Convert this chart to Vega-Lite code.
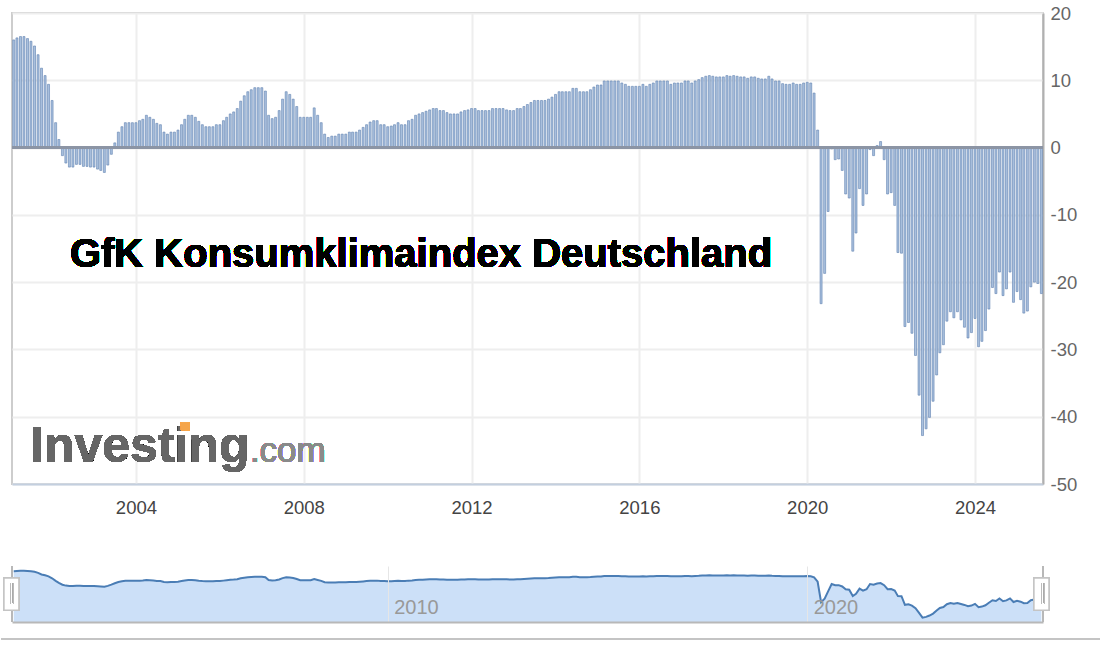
{
  "$schema": "https://vega.github.io/schema/vega-lite/v6.json",
  "padding": {"left": 0, "top": 3, "right": 0, "bottom": 0},
  "background": "white",
  "spacing": 47,
  "config": {"font": "Liberation Sans"},
  "datasets": {
    "gfk": [
      {"date":"2001-02-01","index":16.0},{"date":"2001-03-01","index":16.3},{"date":"2001-04-01","index":16.5},{"date":"2001-05-01","index":16.5},{"date":"2001-06-01","index":16.2},{"date":"2001-07-01","index":15.8},{"date":"2001-08-01","index":15.1},{"date":"2001-09-01","index":13.8},{"date":"2001-10-01","index":11.8},{"date":"2001-11-01","index":10.7},{"date":"2001-12-01","index":9.4},
      {"date":"2002-01-01","index":7.0},{"date":"2002-02-01","index":3.7},{"date":"2002-03-01","index":1.2},{"date":"2002-04-01","index":-1.2},{"date":"2002-05-01","index":-2.3},{"date":"2002-06-01","index":-2.9},{"date":"2002-07-01","index":-2.9},{"date":"2002-08-01","index":-2.5},{"date":"2002-09-01","index":-2.5},{"date":"2002-10-01","index":-2.8},{"date":"2002-11-01","index":-2.8},{"date":"2002-12-01","index":-2.9},
      {"date":"2003-01-01","index":-2.9},{"date":"2003-02-01","index":-3.2},{"date":"2003-03-01","index":-3.4},{"date":"2003-04-01","index":-3.7},{"date":"2003-05-01","index":-2.6},{"date":"2003-06-01","index":-1.0},{"date":"2003-07-01","index":0.7},{"date":"2003-08-01","index":2.3},{"date":"2003-09-01","index":3.1},{"date":"2003-10-01","index":3.7},{"date":"2003-11-01","index":3.7},{"date":"2003-12-01","index":3.7},
      {"date":"2004-01-01","index":3.7},{"date":"2004-02-01","index":4.0},{"date":"2004-03-01","index":4.2},{"date":"2004-04-01","index":4.8},{"date":"2004-05-01","index":4.5},{"date":"2004-06-01","index":4.2},{"date":"2004-07-01","index":3.6},{"date":"2004-08-01","index":3.4},{"date":"2004-09-01","index":2.3},{"date":"2004-10-01","index":2.0},{"date":"2004-11-01","index":2.3},{"date":"2004-12-01","index":2.3},
      {"date":"2005-01-01","index":2.6},{"date":"2005-02-01","index":3.4},{"date":"2005-03-01","index":4.2},{"date":"2005-04-01","index":4.8},{"date":"2005-05-01","index":4.8},{"date":"2005-06-01","index":4.5},{"date":"2005-07-01","index":3.9},{"date":"2005-08-01","index":3.4},{"date":"2005-09-01","index":3.1},{"date":"2005-10-01","index":3.1},{"date":"2005-11-01","index":3.1},{"date":"2005-12-01","index":3.4},
      {"date":"2006-01-01","index":3.4},{"date":"2006-02-01","index":4.0},{"date":"2006-03-01","index":4.5},{"date":"2006-04-01","index":5.0},{"date":"2006-05-01","index":5.3},{"date":"2006-06-01","index":5.8},{"date":"2006-07-01","index":6.9},{"date":"2006-08-01","index":7.7},{"date":"2006-09-01","index":8.3},{"date":"2006-10-01","index":8.6},{"date":"2006-11-01","index":8.9},{"date":"2006-12-01","index":8.9},
      {"date":"2007-01-01","index":8.9},{"date":"2007-02-01","index":8.4},{"date":"2007-03-01","index":4.8},{"date":"2007-04-01","index":4.3},{"date":"2007-05-01","index":4.5},{"date":"2007-06-01","index":5.5},{"date":"2007-07-01","index":7.2},{"date":"2007-08-01","index":8.3},{"date":"2007-09-01","index":7.9},{"date":"2007-10-01","index":7.2},{"date":"2007-11-01","index":6.1},{"date":"2007-12-01","index":4.5},
      {"date":"2008-01-01","index":4.5},{"date":"2008-02-01","index":4.5},{"date":"2008-03-01","index":4.5},{"date":"2008-04-01","index":5.9},{"date":"2008-05-01","index":4.8},{"date":"2008-06-01","index":3.7},{"date":"2008-07-01","index":2.0},{"date":"2008-08-01","index":1.5},{"date":"2008-09-01","index":1.7},{"date":"2008-10-01","index":1.7},{"date":"2008-11-01","index":2.0},{"date":"2008-12-01","index":2.0},
      {"date":"2009-01-01","index":2.0},{"date":"2009-02-01","index":2.3},{"date":"2009-03-01","index":2.3},{"date":"2009-04-01","index":2.3},{"date":"2009-05-01","index":2.6},{"date":"2009-06-01","index":3.0},{"date":"2009-07-01","index":3.4},{"date":"2009-08-01","index":3.8},{"date":"2009-09-01","index":4.0},{"date":"2009-10-01","index":4.0},{"date":"2009-11-01","index":3.4},{"date":"2009-12-01","index":3.4},
      {"date":"2010-01-01","index":3.1},{"date":"2010-02-01","index":3.2},{"date":"2010-03-01","index":3.4},{"date":"2010-04-01","index":3.7},{"date":"2010-05-01","index":3.4},{"date":"2010-06-01","index":3.4},{"date":"2010-07-01","index":4.0},{"date":"2010-08-01","index":4.2},{"date":"2010-09-01","index":4.8},{"date":"2010-10-01","index":5.0},{"date":"2010-11-01","index":5.2},{"date":"2010-12-01","index":5.4},
      {"date":"2011-01-01","index":5.6},{"date":"2011-02-01","index":5.8},{"date":"2011-03-01","index":5.8},{"date":"2011-04-01","index":5.5},{"date":"2011-05-01","index":5.5},{"date":"2011-06-01","index":5.2},{"date":"2011-07-01","index":5.0},{"date":"2011-08-01","index":5.0},{"date":"2011-09-01","index":5.0},{"date":"2011-10-01","index":5.3},{"date":"2011-11-01","index":5.5},{"date":"2011-12-01","index":5.6},
      {"date":"2012-01-01","index":5.8},{"date":"2012-02-01","index":5.8},{"date":"2012-03-01","index":5.5},{"date":"2012-04-01","index":5.5},{"date":"2012-05-01","index":5.5},{"date":"2012-06-01","index":5.5},{"date":"2012-07-01","index":5.8},{"date":"2012-08-01","index":5.8},{"date":"2012-09-01","index":5.8},{"date":"2012-10-01","index":5.8},{"date":"2012-11-01","index":5.6},{"date":"2012-12-01","index":5.5},
      {"date":"2013-01-01","index":5.5},{"date":"2013-02-01","index":5.8},{"date":"2013-03-01","index":5.8},{"date":"2013-04-01","index":6.1},{"date":"2013-05-01","index":6.4},{"date":"2013-06-01","index":6.7},{"date":"2013-07-01","index":7.0},{"date":"2013-08-01","index":7.0},{"date":"2013-09-01","index":7.0},{"date":"2013-10-01","index":7.0},{"date":"2013-11-01","index":7.2},{"date":"2013-12-01","index":7.5},
      {"date":"2014-01-01","index":7.9},{"date":"2014-02-01","index":8.3},{"date":"2014-03-01","index":8.3},{"date":"2014-04-01","index":8.3},{"date":"2014-05-01","index":8.3},{"date":"2014-06-01","index":8.8},{"date":"2014-07-01","index":8.8},{"date":"2014-08-01","index":8.3},{"date":"2014-09-01","index":8.3},{"date":"2014-10-01","index":8.3},{"date":"2014-11-01","index":8.6},{"date":"2014-12-01","index":9.0},
      {"date":"2015-01-01","index":9.3},{"date":"2015-02-01","index":9.3},{"date":"2015-03-01","index":9.9},{"date":"2015-04-01","index":9.9},{"date":"2015-05-01","index":9.9},{"date":"2015-06-01","index":9.9},{"date":"2015-07-01","index":9.9},{"date":"2015-08-01","index":9.6},{"date":"2015-09-01","index":9.4},{"date":"2015-10-01","index":9.1},{"date":"2015-11-01","index":9.1},{"date":"2015-12-01","index":9.1},
      {"date":"2016-01-01","index":9.1},{"date":"2016-02-01","index":9.4},{"date":"2016-03-01","index":9.1},{"date":"2016-04-01","index":9.4},{"date":"2016-05-01","index":9.6},{"date":"2016-06-01","index":9.9},{"date":"2016-07-01","index":9.9},{"date":"2016-08-01","index":9.9},{"date":"2016-09-01","index":9.9},{"date":"2016-10-01","index":9.4},{"date":"2016-11-01","index":9.6},{"date":"2016-12-01","index":9.6},
      {"date":"2017-01-01","index":9.6},{"date":"2017-02-01","index":9.9},{"date":"2017-03-01","index":9.9},{"date":"2017-04-01","index":9.6},{"date":"2017-05-01","index":9.9},{"date":"2017-06-01","index":10.1},{"date":"2017-07-01","index":10.4},{"date":"2017-08-01","index":10.6},{"date":"2017-09-01","index":10.7},{"date":"2017-10-01","index":10.6},{"date":"2017-11-01","index":10.5},{"date":"2017-12-01","index":10.5},
      {"date":"2018-01-01","index":10.5},{"date":"2018-02-01","index":10.7},{"date":"2018-03-01","index":10.6},{"date":"2018-04-01","index":10.7},{"date":"2018-05-01","index":10.6},{"date":"2018-06-01","index":10.5},{"date":"2018-07-01","index":10.5},{"date":"2018-08-01","index":10.3},{"date":"2018-09-01","index":10.5},{"date":"2018-10-01","index":10.5},{"date":"2018-11-01","index":10.3},{"date":"2018-12-01","index":10.2},
      {"date":"2019-01-01","index":10.2},{"date":"2019-02-01","index":10.6},{"date":"2019-03-01","index":10.2},{"date":"2019-04-01","index":9.9},{"date":"2019-05-01","index":9.9},{"date":"2019-06-01","index":9.5},{"date":"2019-07-01","index":9.4},{"date":"2019-08-01","index":9.4},{"date":"2019-09-01","index":9.6},{"date":"2019-10-01","index":9.4},{"date":"2019-11-01","index":9.4},{"date":"2019-12-01","index":9.6},
      {"date":"2020-01-01","index":9.7},{"date":"2020-02-01","index":9.6},{"date":"2020-03-01","index":8.1},{"date":"2020-04-01","index":2.6},{"date":"2020-05-01","index":-23.2},{"date":"2020-06-01","index":-18.7},{"date":"2020-07-01","index":-9.5},{"date":"2020-08-01","index":-0.2},{"date":"2020-09-01","index":-1.8},{"date":"2020-10-01","index":-1.7},{"date":"2020-11-01","index":-3.4},{"date":"2020-12-01","index":-6.9},
      {"date":"2021-01-01","index":-7.5},{"date":"2021-02-01","index":-15.4},{"date":"2021-03-01","index":-12.7},{"date":"2021-04-01","index":-6.1},{"date":"2021-05-01","index":-8.6},{"date":"2021-06-01","index":-6.9},{"date":"2021-07-01","index":-0.3},{"date":"2021-08-01","index":-1.2},{"date":"2021-09-01","index":0.3},{"date":"2021-10-01","index":0.9},{"date":"2021-11-01","index":-1.8},{"date":"2021-12-01","index":-6.9},
      {"date":"2022-01-01","index":-6.7},{"date":"2022-02-01","index":-8.6},{"date":"2022-03-01","index":-15.6},{"date":"2022-04-01","index":-15.7},{"date":"2022-05-01","index":-26.6},{"date":"2022-06-01","index":-26.0},{"date":"2022-07-01","index":-27.6},{"date":"2022-08-01","index":-30.9},{"date":"2022-09-01","index":-36.8},{"date":"2022-10-01","index":-42.8},{"date":"2022-11-01","index":-41.8},{"date":"2022-12-01","index":-40.1},
      {"date":"2023-01-01","index":-37.7},{"date":"2023-02-01","index":-33.8},{"date":"2023-03-01","index":-30.5},{"date":"2023-04-01","index":-29.3},{"date":"2023-05-01","index":-25.8},{"date":"2023-06-01","index":-24.4},{"date":"2023-07-01","index":-25.3},{"date":"2023-08-01","index":-24.4},{"date":"2023-09-01","index":-25.6},{"date":"2023-10-01","index":-26.7},{"date":"2023-11-01","index":-28.3},{"date":"2023-12-01","index":-27.5},
      {"date":"2024-01-01","index":-25.4},{"date":"2024-02-01","index":-29.6},{"date":"2024-03-01","index":-28.8},{"date":"2024-04-01","index":-27.2},{"date":"2024-05-01","index":-24.0},{"date":"2024-06-01","index":-20.8},{"date":"2024-07-01","index":-21.7},{"date":"2024-08-01","index":-18.5},{"date":"2024-09-01","index":-22.0},{"date":"2024-10-01","index":-21.0},{"date":"2024-11-01","index":-18.5},{"date":"2024-12-01","index":-23.0},
      {"date":"2025-01-01","index":-21.4},{"date":"2025-02-01","index":-22.6},{"date":"2025-03-01","index":-24.6},{"date":"2025-04-01","index":-24.3},{"date":"2025-05-01","index":-20.7},{"date":"2025-06-01","index":-20.0},{"date":"2025-07-01","index":-20.2},{"date":"2025-08-01","index":-21.7}
    ]
  },
  "vconcat": [
    {
      "width": 1031,
      "height": 471,
      "view": {"stroke": "#cdcdcd", "strokeWidth": 2},
      "data": {"name": "gfk"},
      "layer": [
        {
          "mark": {"type": "bar", "width": 2, "fill": "#a9c0de", "stroke": "#5f82b0", "strokeWidth": 0.6},
          "encoding": {
            "x": {
              "field": "date", "type": "temporal",
              "scale": {"domain": [{"year": 2001, "month": 1, "date": 17}, {"year": 2025, "month": 8, "date": 15}], "padding": 0},
              "axis": {"title": null, "format": "%Y", "tickCount": {"interval": "year", "step": 4}, "grid": true, "gridColor": "#eeeeee", "gridWidth": 2, "ticks": false, "domainColor": "#c3cfdf", "domainWidth": 2, "labelFontSize": 18.5, "labelColor": "#444444", "labelPadding": 14}
            },
            "y": {
              "field": "index", "type": "quantitative",
              "scale": {"domain": [-50, 20], "nice": false},
              "axis": {"title": null, "orient": "right", "values": [-50, -40, -30, -20, -10, 0, 10, 20], "labelExpr": "'' + datum.value", "grid": true, "gridColor": "#eeeeee", "gridWidth": 2, "ticks": false, "domainColor": "#b0b0b0", "domainWidth": 2, "labelFontSize": 18.5, "labelColor": "#666666", "labelPadding": 7}
            }
          }
        },
        {
          "mark": {"type": "rule", "color": "#8b95a5", "strokeWidth": 1.5},
          "encoding": {"y": {"datum": 0}}
        },
        {
          "mark": {"type": "text", "text": "GfK Konsumklimaindex Deutschland", "align": "left", "baseline": "alphabetic", "fontSize": 40, "fontWeight": "bold", "color": "black"},
          "encoding": {"x": {"datum": {"year": 2002, "month": 6, "date": 5}}, "y": {"datum": -17.8}}
        },
        {
          "mark": {"type": "text", "text": "Investing", "align": "left", "baseline": "alphabetic", "fontSize": 50, "fontWeight": "bold", "color": "#666666"},
          "encoding": {"x": {"datum": {"year": 2001, "month": 6, "date": 23}}, "y": {"datum": -46.8}}
        },
        {
          "mark": {"type": "text", "text": ".com", "align": "left", "baseline": "alphabetic", "fontSize": 35, "color": "#8a8a8a"},
          "encoding": {"x": {"datum": {"year": 2006, "month": 9, "date": 19}}, "y": {"datum": -46.8}}
        },
        {
          "mark": {"type": "rect", "fill": "#f5a54a"},
          "encoding": {
            "x": {"datum": {"year": 2005, "month": 1, "date": 26}}, "x2": {"datum": {"year": 2005, "month": 4, "date": 15}},
            "y": {"datum": -40.9}, "y2": {"datum": -42.0}
          }
        }
      ]
    },
    {
      "width": 1031,
      "height": 56,
      "view": {"stroke": null},
      "data": {"name": "gfk"},
      "layer": [
        {
          "mark": {"type": "area", "fill": "#cce0f8"},
          "encoding": {
            "x": {
              "field": "date", "type": "temporal",
              "scale": {"domain": [{"year": 2001, "month": 1, "date": 17}, {"year": 2025, "month": 8, "date": 15}]},
              "axis": {"title": null, "format": "%Y", "values": [{"year": 2010, "month": 1, "date": 1}, {"year": 2020, "month": 1, "date": 1}], "zindex": 1, "grid": true, "gridColor": "#e6e6e6", "ticks": false, "domainColor": "#b8b8b8", "domainWidth": 2, "labelFontSize": 20, "labelColor": "#999999", "labelAlign": "left", "labelBaseline": "alphabetic", "labelPadding": -9, "labelOffset": 6, "labelFlush": false}
            },
            "y": {"field": "index", "type": "quantitative", "scale": {"domain": [-48.3, 22.5], "nice": false}, "axis": null},
            "y2": {"datum": -48.3}
          }
        },
        {
          "mark": {"type": "line", "color": "#4a7db5", "strokeWidth": 2},
          "encoding": {
            "x": {"field": "date", "type": "temporal"},
            "y": {"field": "index", "type": "quantitative"}
          }
        },
        {
          "mark": {"type": "rule", "color": "#b8b8b8", "strokeWidth": 1.5},
          "encoding": {"x": {"datum": {"year": 2001, "month": 1, "date": 17}}, "y": {"datum": 22.5}, "y2": {"datum": -48.3}}
        },
        {
          "mark": {"type": "rule", "color": "#b8b8b8", "strokeWidth": 1.5},
          "encoding": {"x": {"datum": {"year": 2025, "month": 8, "date": 15}}, "y": {"datum": 22.5}, "y2": {"datum": -48.3}}
        },
        {
          "mark": {"type": "rect", "fill": "white", "stroke": "#c4c4c4", "strokeWidth": 1.5},
          "encoding": {
            "x": {"datum": {"year": 2000, "month": 11, "date": 8}}, "x2": {"datum": {"year": 2001, "month": 3, "date": 18}},
            "y": {"datum": 7.3}, "y2": {"datum": -33.5}
          }
        },
        {
          "mark": {"type": "rect", "fill": "white", "stroke": "#c4c4c4", "strokeWidth": 1.5},
          "encoding": {
            "x": {"datum": {"year": 2025, "month": 5, "date": 28}}, "x2": {"datum": {"year": 2025, "month": 10, "date": 6}},
            "y": {"datum": 7.3}, "y2": {"datum": -33.5}
          }
        },
        {
          "mark": {"type": "rule", "color": "#bbbbbb", "strokeWidth": 1},
          "encoding": {"x": {"datum": {"year": 2001, "month": 1, "date": 4}}, "y": {"datum": 1}, "y2": {"datum": -25}}
        },
        {
          "mark": {"type": "rule", "color": "#bbbbbb", "strokeWidth": 1},
          "encoding": {"x": {"datum": {"year": 2001, "month": 1, "date": 30}}, "y": {"datum": 1}, "y2": {"datum": -25}}
        },
        {
          "mark": {"type": "rule", "color": "#bbbbbb", "strokeWidth": 1},
          "encoding": {"x": {"datum": {"year": 2025, "month": 8, "date": 2}}, "y": {"datum": 1}, "y2": {"datum": -25}}
        },
        {
          "mark": {"type": "rule", "color": "#bbbbbb", "strokeWidth": 1},
          "encoding": {"x": {"datum": {"year": 2025, "month": 8, "date": 28}}, "y": {"datum": 1}, "y2": {"datum": -25}}
        },
        {
          "mark": {"type": "rule", "color": "#c4c4c4", "strokeWidth": 1.5},
          "encoding": {"x": {"datum": {"year": 2000, "month": 10, "date": 19}}, "x2": {"datum": {"year": 2026, "month": 12, "date": 24}}, "y": {"datum": -70}}
        }
      ]
    }
  ]
}
